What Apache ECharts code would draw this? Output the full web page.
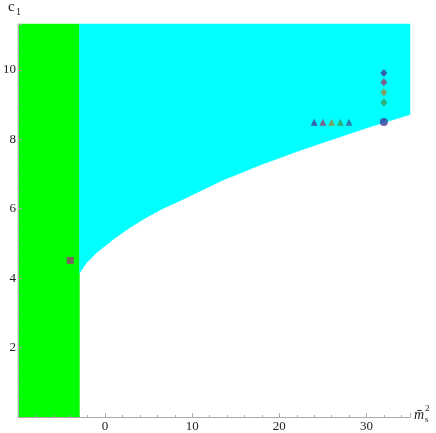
<!DOCTYPE html>
<html>
<head>
<meta charset="utf-8">
<script src="https://cdn.jsdelivr.net/npm/echarts@6.0.0/dist/echarts.min.js"></script>
<style>
html, body { margin: 0; padding: 0; background: #fff; }
#chart { width: 436px; height: 433px; }
</style>
</head>
<body>
<div id="chart"></div>
<script>
// 軸の範囲
const xRange = [-10, 35];
const yRange = [0, 11.32];
// 緑の帯の右端
const greenEdge = -2.95;
// 水色領域の下側の境界
const boundaryM = [-2.95, -2.13, -0.99, 0.91, 2.81, 4.69, 6.59, 8.86, 13.41, 17.95, 22.5, 26.25, 30.08, 35.0];
const boundaryC = [4.14, 4.44, 4.73, 5.11, 5.45, 5.74, 6.0, 6.26, 6.81, 7.27, 7.69, 8.01, 8.33, 8.71];
// マーカー
const squareM = [-4];
const squareC = [4.51];
const triM = [24, 25, 26, 27, 28];
const triC = [8.49, 8.49, 8.49, 8.49, 8.49];
const circleM = [32];
const circleC = [8.5];
const diamondM = [32, 32, 32, 32];
const diamondC = [9.91, 9.64, 9.35, 9.06];
const xLabels = [0, 10, 20, 30];
const yLabels = [2, 4, 6, 8, 10];

const palette = ['#3d3d99', '#993d71', '#998b3d', '#3d9956', '#3d5a99'];

// 多角形の頂点
const greenPoly = [[xRange[0], yRange[0]], [greenEdge, yRange[0]], [greenEdge, yRange[1]], [xRange[0], yRange[1]]];
const cyanPoly = boundaryM.map((m, i) => [m, boundaryC[i]])
  .concat([[xRange[1], yRange[1]], [greenEdge, yRange[1]]]);

function polygonSeries(points, color) {
  return {
    type: 'custom',
    data: [[points[0][0], points[0][1]]],
    silent: true,
    renderItem: function (params, api) {
      return {
        type: 'polygon',
        shape: { points: points.map(p => api.coord(p)) },
        style: { fill: color, stroke: color, lineWidth: 0.5 }
      };
    }
  };
}

function markerData(ms, cs, colorIdx) {
  return ms.map((m, i) => ({
    value: [m, cs[i]],
    itemStyle: { color: palette[colorIdx(i)] }
  }));
}

const serif = '"Liberation Serif", "Times New Roman", serif';
let myChart = echarts.init(document.getElementById('chart'));
myChart.setOption({
  animation: false,
  grid: { left: 14, right: 26, top: 24, bottom: 15, containLabel: false },
  xAxis: {
    type: 'value', min: xRange[0], max: xRange[1], interval: 10, z: 5,
    axisLine: { onZero: false, lineStyle: { color: '#aaa', width: 1 } },
    axisTick: { inside: true, length: 4, lineStyle: { color: '#aaa' } },
    minorTick: { show: true, splitNumber: 5, length: 2, lineStyle: { color: '#aaa' } },
    splitLine: { show: false },
    axisLabel: {
      margin: 3, fontFamily: serif, fontSize: 13, color: '#222',
      showMinLabel: true, showMaxLabel: false,
      formatter: v => xLabels.includes(v) ? String(v) : ''
    }
  },
  yAxis: {
    type: 'value', min: yRange[0], max: yRange[1], interval: 2, z: 5,
    axisLine: { show: true, onZero: false, lineStyle: { color: '#aaa', width: 1 } },
    axisTick: { show: true, inside: true, length: 4, lineStyle: { color: '#aaa' } },
    minorTick: { show: true, splitNumber: 4, length: 2, lineStyle: { color: '#aaa' } },
    splitLine: { show: false },
    axisLabel: {
      margin: 2, fontFamily: serif, fontSize: 13, color: '#222',
      showMaxLabel: false,
      formatter: v => yLabels.includes(v) ? String(v) : ''
    }
  },
  graphic: [
    { type: 'text', left: 8, top: 0, style: { text: 'c', font: '15px "Liberation Serif"', fill: '#222' } },
    { type: 'text', left: 16, top: 7, style: { text: '1', font: '10px "Liberation Serif"', fill: '#222' } },
    { type: 'text', left: 414, top: 408, style: { text: 'm\u0304', font: 'italic 14px "Liberation Serif"', fill: '#222' } },
    { type: 'text', left: 425, top: 404, style: { text: '2', font: '9px "Liberation Serif"', fill: '#222' } },
    { type: 'text', left: 425, top: 415, style: { text: 's', font: '9px "Liberation Serif"', fill: '#222' } }
  ],
  series: [
    polygonSeries(greenPoly, '#00ff00'),
    polygonSeries(cyanPoly, '#00ffff'),
    {
      type: 'scatter', symbol: 'rect', symbolSize: 7,
      data: markerData(squareM, squareC, () => 1)
    },
    {
      type: 'scatter', symbol: 'triangle', symbolSize: [7, 7],
      data: markerData(triM, triC, i => i)
    },
    {
      type: 'scatter', symbol: 'circle', symbolSize: 8,
      data: markerData(circleM, circleC, () => 0)
    },
    {
      type: 'scatter', symbol: 'diamond', symbolSize: [7, 8],
      data: markerData(diamondM, diamondC, i => i)
    }
  ]
});
</script>
</body>
</html>
